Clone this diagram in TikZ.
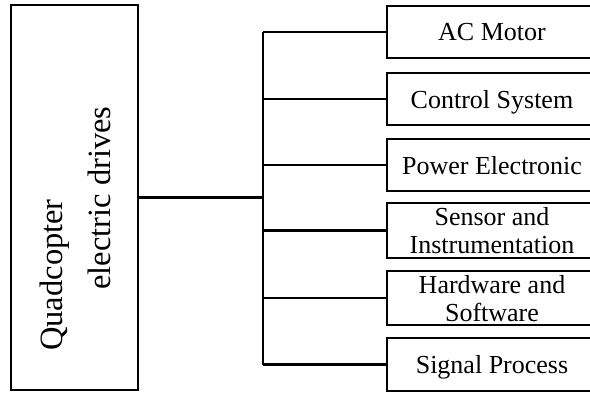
\documentclass[tikz,border=0pt]{standalone}
\usepackage{fontspec}
\setmainfont{Liberation Serif}
\begin{document}
\begin{tikzpicture}[x=1pt,y=-1pt,
  leftbox/.style={draw, line width=2.3pt, minimum width=127pt, minimum height=385pt, inner sep=0pt},
  itembox/.style={draw, line width=2.3pt, minimum width=210pt, inner sep=0pt, align=center,
    font=\fontsize{26}{28}\selectfont, text depth=0pt},
  bigtext/.style={rotate=90, anchor=base, inner sep=0pt, font=\fontsize{32.5}{36}\selectfont},
  conn/.style={line width=2.3pt},
  mainconn/.style={line width=3pt}]
\useasboundingbox (0,0) rectangle (590,394);
\clip (0,0) rectangle (590,394);
\node[leftbox] (L) at (74.5,197.5) {};
\node[bigtext] (q1) at (62,275) {Quadcopter};
\node[bigtext] (q2) at (110,198) {electric drives};
\node[itembox, minimum height=52pt] (b1) at (492,32) {AC Motor};
\node[itembox, minimum height=52pt] (b2) at (492,99) {Control System};
\node[itembox, minimum height=52pt] (b3) at (492,165) {Power Electronic};
\node[itembox, minimum height=55pt] (b4) at (492,230.5) {Sensor and\\Instrumentation};
\node[itembox, minimum height=54pt] (b5) at (492,298) {Hardware and\\Software};
\node[itembox, minimum height=53pt] (b6) at (492,364.5) {Signal Process};
\coordinate (bus) at (263,0);
\draw[mainconn] (L.east) -- (L.east -| bus);
\draw[conn] (b1.west -| bus) -- (b6.west -| bus);
\foreach \b in {b1,b2,b3,b4,b5,b6}
  \draw[conn] (\b.west -| bus) -- (\b.west);
\end{tikzpicture}
\end{document}
